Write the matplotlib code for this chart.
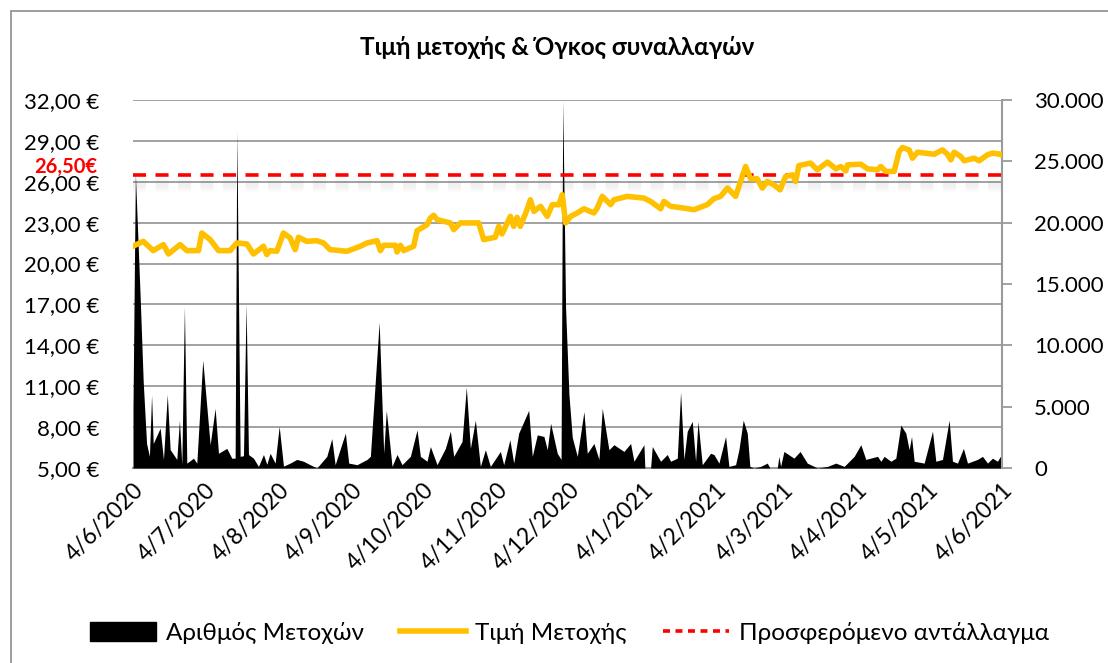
import numpy as np
import matplotlib
matplotlib.use("Agg")
import matplotlib.pyplot as plt
import matplotlib.dates as mdates
from matplotlib.patches import Patch, Rectangle
from matplotlib.lines import Line2D
from matplotlib.ticker import FuncFormatter, FixedLocator
from datetime import datetime

plt.rcParams['font.family'] = ['Lato', 'Noto Sans', 'DejaVu Sans']
plt.rcParams['lines.scale_dashes'] = False

# ---------------- data ----------------
start_date = datetime(2020, 6, 4)
end_date = datetime(2021, 6, 4)

# share price (days since 4/6/2020, EUR)
price_days = [0, 4.3, 8.5, 12.8, 14.9, 19.8, 22.6, 27.5, 28.9, 32.4, 35.9, 40.8, 43.6, 47.8,
              50.6, 54.8, 56.2, 57.6, 60.4, 63.2, 66.0, 68.1, 69.5, 73.0, 77.2, 80.0, 82.8,
              89.9, 95.5, 98.3, 102.5, 103.9, 105.3, 110.2, 110.9, 112.3, 113.7, 117.9,
              119.3, 123.5, 124.9, 126.3, 127.7, 133.3, 134.7, 137.5, 145.2, 147.3, 152.2,
              153.6, 155.0, 158.5, 159.9, 161.3, 162.7, 165.5, 166.9, 168.4, 171.2, 174.0,
              176.1, 178.9, 180.3, 181.7, 183.8, 186.6, 189.4, 193.6, 195.0, 197.1, 200.6,
              202.0, 207.6, 214.6, 217.4, 221.6, 223.0, 225.8, 231.4, 235.6, 241.2, 244.0,
              246.8, 249.7, 251.1, 253.1, 255.2, 257.3, 259.4, 262.2, 264.3, 266.4, 269.2,
              271.8, 274.1, 277.0, 278.3, 279.7, 284.6, 287.4, 291.7, 295.2, 297.3, 299.4,
              300.1, 305.7, 308.5, 312.7, 314.1, 316.2, 319.7, 321.8, 323.2, 326.0, 327.4,
              329.5, 336.5, 340.0, 342.1, 343.5, 344.9, 347.7, 349.1, 353.3, 355.4, 358.9,
              361.0, 364.5, 365.0]
price_values = [21.27, 21.63, 20.95, 21.39, 20.70, 21.39, 20.95, 20.95, 22.24, 21.76, 20.95,
                20.95, 21.51, 21.44, 20.70, 21.27, 20.66, 20.95, 20.90, 22.24, 21.88, 21.02,
                21.93, 21.63, 21.68, 21.51, 21.02, 20.90, 21.27, 21.51, 21.68, 20.95, 21.34,
                21.34, 20.85, 21.34, 20.95, 21.27, 22.41, 22.85, 23.34, 23.54, 23.22, 22.98,
                22.49, 22.98, 22.98, 21.76, 21.93, 22.73, 22.17, 23.46, 22.73, 23.39, 22.73,
                23.95, 24.68, 23.83, 24.20, 23.46, 24.32, 24.32, 25.05, 22.98, 23.46, 23.71,
                24.02, 23.71, 24.07, 24.93, 24.32, 24.68, 24.93, 24.80, 24.56, 24.02, 24.56,
                24.20, 24.07, 23.95, 24.32, 24.76, 24.93, 25.54, 25.29, 24.93, 26.02, 27.12,
                26.22, 26.22, 25.54, 26.02, 25.78, 25.41, 26.39, 26.51, 26.02, 27.19, 27.37,
                26.88, 27.44, 26.95, 27.12, 26.80, 27.24, 27.29, 26.95, 26.88, 27.12, 26.76,
                26.76, 28.22, 28.51, 28.34, 27.73, 28.17, 28.02, 28.34, 28.02, 27.61, 28.17,
                27.85, 27.54, 27.73, 27.54, 27.98, 28.10, 28.02, 27.93]

# traded shares (days since 4/6/2020, shares)
volume_days = [0, 1.0, 3.0, 4.3, 5.7, 6.9, 7.8, 8.5, 11.4, 12.8, 14.4, 15.6, 18.4, 19.5, 20.5,
               21.6, 22.6, 25.4, 26.8, 29.3, 32.4, 34.5, 35.9, 39.4, 41.5, 42.9, 43.6, 45.0,
               46.4, 47.5, 48.5, 50.6, 52.7, 54.8, 56.2, 57.6, 59.7, 61.4, 63.2, 66.0, 68.8,
               71.6, 74.4, 77.2, 81.4, 83.5, 84.9, 89.2, 90.6, 94.1, 98.3, 99.7, 103.4, 105.3,
               106.4, 108.8, 110.9, 113.0, 116.5, 119.3, 120.7, 123.5, 124.9, 127.7, 131.2,
               133.3, 134.7, 138.2, 140.0, 141.7, 143.8, 145.9, 148.0, 150.1, 154.3, 155.7,
               158.3, 159.9, 162.0, 166.2, 167.7, 169.8, 172.6, 174.0, 175.4, 178.2, 179.8,
               180.5, 181.7, 183.1, 184.5, 186.6, 189.4, 190.8, 193.6, 195.7, 197.1, 199.9,
               202.0, 206.2, 209.0, 210.4, 214.6, 215.0, 217.4, 218.1, 221.6, 224.4, 225.8,
               228.6, 230.0, 231.4, 232.8, 234.9, 236.3, 237.3, 239.1, 242.6, 244.0, 246.1,
               248.9, 250.3, 253.1, 254.5, 256.3, 258.0, 259.1, 260.8, 263.6, 266.4, 267.5,
               270.6, 271.3, 272.0, 273.4, 277.6, 280.2, 283.2, 287.5, 291.7, 295.2, 298.7,
               300.1, 302.9, 305.7, 307.8, 312.7, 314.1, 315.5, 318.3, 320.4, 322.5, 324.6,
               326.0, 327.0, 328.1, 332.3, 335.8, 337.2, 340.0, 342.8, 344.2, 346.3, 348.8,
               350.5, 354.7, 356.8, 358.9, 361.0, 363.1, 364.3, 365.0]
volume_values = [5000, 24000, 14000, 7000, 2000, 950, 5950, 2000, 3250, 700, 6000, 1500, 700,
                 3900, 270, 13160, 400, 800, 400, 8800, 1900, 4860, 1200, 1600, 800, 800,
                 27500, 950, 1000, 13400, 1100, 800, 130, 1100, 300, 1200, 400, 3400, 150,
                 400, 700, 550, 270, 0, 950, 2400, 270, 2840, 400, 270, 700, 950, 11900, 1200,
                 4700, 130, 1100, 270, 950, 3100, 950, 550, 1750, 270, 1600, 3000, 950, 2160,
                 6600, 1600, 3900, 130, 1490, 130, 1350, 270, 2300, 400, 2840, 4700, 950,
                 2700, 2570, 1490, 3650, 1200, 700, 30000, 13000, 6000, 2500, 950, 4600, 1200,
                 2000, 700, 4860, 1490, 1900, 1350, 2000, 550, 1900, 0, 0, 1750, 550, 1100,
                 550, 800, 6200, 700, 3000, 3800, 550, 3800, 270, 1200, 1100, 400, 2570, 130,
                 270, 1490, 3900, 2840, 130, 0, 130, 400, 0, 0, 950, 130, 1350, 800, 1350,
                 400, 0, 130, 400, 130, 400, 950, 1900, 700, 950, 550, 950, 550, 800, 3500,
                 2840, 1490, 2570, 550, 400, 3000, 550, 700, 3900, 550, 400, 1600, 400, 700,
                 950, 400, 800, 550, 950, 130]

offer_price = 26.50
offer_label = "26,50€"

tick_dates = [datetime(2020, m, 4) for m in range(6, 13)] + [datetime(2021, m, 4) for m in range(1, 7)]
tick_labels = ["4/6/2020", "4/7/2020", "4/8/2020", "4/9/2020", "4/10/2020", "4/11/2020",
               "4/12/2020", "4/1/2021", "4/2/2021", "4/3/2021", "4/4/2021", "4/5/2021", "4/6/2021"]
price_ticks = [5, 8, 11, 14, 17, 20, 23, 26, 29, 32]
volume_ticks = [0, 5000, 10000, 15000, 20000, 25000, 30000]

title = "Τιμή μετοχής & Όγκος συναλλαγών"
legend_labels = ["Αριθμός Μετοχών", "Τιμή Μετοχής", "Προσφερόμενο αντάλλαγμα"]

# ---------------- plot ----------------
d0 = mdates.date2num(start_date)
price_x = d0 + np.array(price_days)
vol_x = d0 + np.array(volume_days)

fig = plt.figure(figsize=(11.08, 6.63), dpi=100)
fig.patches.append(Rectangle((11 / 1108, -0.05), 1.2, 1.05 - 11 / 663, transform=fig.transFigure,
                             fill=False, edgecolor='#8C8C8C', linewidth=1.2))

rect = [133 / 1108, 1 - 468 / 663, (1002 - 133) / 1108, (468 - 100) / 663]
ax = fig.add_axes(rect)       # price axis, grid
ax2 = ax.twinx()               # volume
ax3 = ax.twinx()               # price line on top

xl = (mdates.date2num(start_date), mdates.date2num(end_date))
for a in (ax, ax2, ax3):
    a.set_xlim(*xl)
ax.set_ylim(5, 32)
ax3.set_ylim(5, 32)
ax2.set_ylim(0, 30000)

grid_c = '#9A9A9A'
ax.yaxis.set_major_locator(FixedLocator(price_ticks))
ax.grid(axis='y', color=grid_c, linewidth=1.3)
ax.grid(axis='x', visible=False)
ax.yaxis.set_major_formatter(FuncFormatter(lambda v, p: f"{v:.2f}".replace('.', ',') + " €"))
ax.tick_params(axis='y', length=0, pad=24, labelsize=16)
ax.xaxis.set_major_locator(FixedLocator(mdates.date2num(tick_dates)))
ax.set_xticklabels(tick_labels, rotation=45, ha='right', rotation_mode='anchor')
ax.tick_params(axis='x', length=0, pad=8, labelsize=16.5)
for s in ('left', 'top', 'right'):
    ax.spines[s].set_visible(False)
ax.spines['bottom'].set_color(grid_c)
ax.spines['bottom'].set_linewidth(1.5)

# volume area
ax2.fill_between(vol_x, 0, volume_values, color='black', linewidth=0)
ax2.yaxis.set_major_locator(FixedLocator(volume_ticks))
ax2.yaxis.set_major_formatter(FuncFormatter(lambda v, p: f"{int(v):,}".replace(',', '.')))
ax2.tick_params(axis='y', direction='out', length=7, width=1.3, color=grid_c, pad=16, labelsize=16)
for s in ('left', 'top', 'bottom'):
    ax2.spines[s].set_visible(False)
ax2.spines['right'].set_color(grid_c)
ax2.spines['right'].set_linewidth(1.5)

# top layer: price and offer line
ax3.axis('off')
shadow_y = offer_price - 0.72
for lw, al in [(10, 0.025), (7, 0.03), (4, 0.035)]:
    ax3.plot(xl, [shadow_y, shadow_y], color='#707070', alpha=al, linewidth=lw,
             dashes=(9.4, 6.8), solid_capstyle='butt', dash_capstyle='butt')
ax3.plot(xl, [offer_price, offer_price], color='#FF0000', linewidth=2.6, dashes=(9.4, 6.8))
ax3.plot(price_x, price_values, color='#FFC000', linewidth=4.0, solid_joinstyle='round',
         solid_capstyle='round')
ax3.text(-0.041, offer_price + 0.55, offer_label, transform=ax3.get_yaxis_transform(),
         ha='right', va='center', color='#FF0000', fontsize=14.5, fontweight='bold', clip_on=False)

fig.text(0.503, 1 - 47 / 663, title, ha='center', va='center', fontsize=17.5, fontweight='bold')

handles = [Patch(facecolor='black', edgecolor='black'),
           Line2D([], [], color='#FFC000', linewidth=4.0),
           Line2D([], [], color='#FF0000', linewidth=2.6, dashes=(5, 4))]
fig.legend(handles, legend_labels, loc='center', bbox_to_anchor=(0.514, 1 - 633 / 663), ncol=3,
           frameon=False, fontsize=17.5, handlelength=2.7, handleheight=0.8, columnspacing=1.5,
           handletextpad=0.4)

fig.savefig('out.png', dpi=100)
